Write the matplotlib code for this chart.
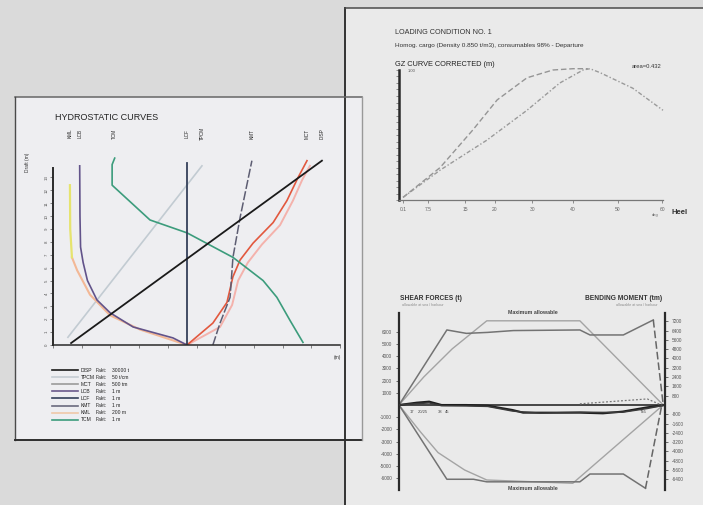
import matplotlib
matplotlib.use("Agg")
import matplotlib.pyplot as plt
from matplotlib.patches import Rectangle

plt.rcParams["font.family"] = ["Liberation Sans", "DejaVu Sans"]

W, H = 703, 505

# ---------------------------- hydrostatic curves ---------------------------- #
disp_draft = [0.15, 14.3]
disp = [6.3, 93.7]
tpc_draft = [0.6, 13.9]
tpc = [5.2, 51.9]
lcf_draft = [0.0, 14.1]
lcf = [46.7, 46.7]
lcb_draft = [0, 0.55, 1.4, 2.5, 3.5, 5.0, 6.4, 7.6, 10, 13.9]
lcb = [46.7, 41.8, 27.9, 19.9, 15.3, 12.0, 10.5, 9.6, 9.4, 9.3]
kml_draft = [0, 1.2, 2.3, 3.9, 5.8, 6.8, 9.0, 12.4]
kml = [46.7, 30.3, 19.9, 12.9, 8.4, 6.6, 6.0, 5.9]
mct_draft = [0, 1.7, 3.3, 5.3, 6.6, 7.9, 9.5, 11.2, 13.0, 14.3]
mct = [46.7, 55.7, 60.6, 62.7, 65.2, 69.7, 76.7, 81.5, 85.4, 88.5]
wpa_draft = [0, 1.4, 3.1, 5.0, 6.4, 7.8, 9.3, 11.2, 12.8, 13.9]
wpa = [46.7, 58.2, 62.4, 64.5, 67.9, 72.8, 79.1, 83.6, 86.8, 89.5]
kmt_draft = [0, 1.7, 3.7, 6.8, 9.9, 14.3]
kmt = [55.7, 58.2, 61.7, 62.7, 65.2, 69.3]
tcm_draft = [0.2, 1.9, 3.7, 5.0, 6.8, 8.7, 9.7, 12.4, 14.0, 14.5]
tcm = [87.1, 82.6, 78.0, 73.2, 62.7, 46.7, 33.8, 20.6, 20.6, 21.5]

legend_names = ["DISP", "TPCM", "MCT", "LCB", "LCF", "KMT", "KML", "TCM"]
legend_facts = ["30000 t", "50 t/cm", "500 tm", "1 m", "1 m", "1 m", "200 m", "1 m"]
legend_colors = ["#1a1a1a", "#c4ccd2", "#9a9a9a", "#6a5a8c", "#34405a",
                 "#6a6a7e", "#f0c8a8", "#3c9c7c"]

# -------------------------------- GZ curve ---------------------------------- #
gz_heel = [0, 8.6, 16.2, 21.8, 28.7, 34.7, 39.4, 42.8]
gz = [0.02, 0.25, 0.54, 0.77, 0.94, 1.0, 1.01, 1.01]
gz2_heel = [0, 8.6, 19.4, 28.7, 36.3, 41.7, 43.3, 45.6, 53.2, 60.2]
gz2 = [0.02, 0.23, 0.46, 0.69, 0.90, 1.0, 1.01, 0.98, 0.86, 0.69]
heel_ticks = [0, 5.8, 14.4, 21.3, 29.9, 39.4, 49.8, 60]
heel_labels = ["0.1", "7.5", "15", "20", "30", "40", "50", "60"]

# ---------------------- shear forces / bending moment ----------------------- #
env_pos = [0, 14, 30, 49.5, 102, 149]
env_up = [0, 2300, 4600, 6900, 6900, 0]
env_lo_pos = [0, 12, 22, 37, 49.5, 98, 126.5, 149]
env_lo = [0, -2190, -3900, -5330, -6150, -6420, -2830, 0]
sf_pos = [0, 27, 38, 50, 64.5, 102, 107.7, 126.5, 143.4]
sf_up = [0, 6150, 5870, 5950, 6100, 6150, 5740, 5740, 6970]
sf_lo_pos = [0, 27, 42, 49.5, 102, 107.7, 126.5, 139]
sf_lo = [0, -6090, -6090, -6300, -6300, -5660, -5660, -6830]
sf_end_pos = [143.4, 149]
sf_end_up = [6970, 0]
sf_end_lo_pos = [139, 148.2]
sf_end_lo = [-6830, 0]
bm_pos = [0, 10, 17, 24, 38, 50, 64, 70, 80, 102, 115, 126, 140, 150]
bm1 = [0, 200, 290, 0, 0, -60, -430, -660, -660, -660, -717, -570, -200, 0]
bm2 = [0, 120, 180, -60, -80, -120, -520, -600, -700, -620, -640, -620, -300, 0]
bm3_pos = [102, 120, 140, 148]
bm3 = [100, 300, 520, 0]
frame_pos = [7.3, 13.5, 23, 27, 137.6]
frame_labels = ["17", "20/25", "38", "45", "Tk5"]
sf_ticks = [-6000, -5000, -4000, -3000, -2000, -1000, 1000, 2000, 3000, 4000, 5000, 6000]
bm_ticks = [-6400, -5600, -4800, -4000, -3200, -2400, -1600, -800,
            800, 1600, 2400, 3200, 4000, 4800, 5600, 6400, 7200]


def px_axes(fig, x0, y0, x1, y1):
    return fig.add_axes([x0 / W, 1 - y1 / H, (x1 - x0) / W, (y1 - y0) / H])


fig = plt.figure(figsize=(W / 100, H / 100), dpi=100, facecolor="#dadada")

# background: two sheets of paper
bg = fig.add_axes([0, 0, 1, 1])
bg.set_xlim(0, W); bg.set_ylim(H, 0); bg.axis("off")
bg.add_patch(Rectangle((345, 8), 380, 520, facecolor="#eaeaea", edgecolor="none"))
bg.plot([345, 345], [8, 510], color="#333333", lw=1.4)
bg.plot([345, 710], [8, 8], color="#4a4a4a", lw=1.1)
bg.add_patch(Rectangle((15, 97), 347, 343, facecolor="#eeeef1", edgecolor="none"))
bg.plot([15, 362], [97, 97], color="#666666", lw=1.1)
bg.plot([15, 15], [97, 440], color="#4a4a4a", lw=1.0)
bg.plot([15, 362], [440, 440], color="#2e2e2e", lw=1.4)
bg.plot([362, 362], [97, 440], color="#999999", lw=1.0)

bg.text(55, 118, "HYDROSTATIC CURVES", fontsize=6.5, color="#222222", va="center")
bg.text(27, 162, "Draft (m)", fontsize=3.5, rotation=90, color="#333333", ha="center", va="center")
bg.text(337, 357, "(m)", fontsize=3.5, color="#333333", ha="center", va="center")

for i, (name, fact, c) in enumerate(zip(legend_names, legend_facts, legend_colors)):
    yy = 370 + i * 7.1
    bg.plot([52, 78], [yy, yy], color=c, lw=1.2)
    bg.text(81, yy, name, fontsize=3.6, color="#222222", va="center")
    bg.text(96, yy, "Fakt:", fontsize=3.6, color="#222222", va="center")
    bg.text(112, yy, fact, fontsize=3.6, color="#222222", va="center")

bg.text(395, 33, "LOADING CONDITION NO. 1", fontsize=5.2, color="#333333", va="center")
bg.text(395, 45, "Homog. cargo (Density 0.850 t/m3), consumables 98% - Departure",
        fontsize=4.6, color="#333333", va="center")
bg.text(395, 64, "GZ CURVE CORRECTED (m)", fontsize=5.3, color="#222222", va="center")
bg.text(662, 67, "area=0.432", fontsize=4.2, color="#333333", ha="right", va="center")
bg.text(408, 71, "1.00", fontsize=3, color="#555555", va="center")
bg.text(680, 212, "Heel", fontsize=5.5, fontweight="bold", color="#333333", ha="center", va="center")
bg.text(655, 215, "deg", fontsize=3, color="#666666", ha="center", va="center")

bg.text(400, 299, "SHEAR FORCES (t)", fontsize=4.8, fontweight="bold", color="#333333", va="center")
bg.text(402, 305, "allowable at sea / harbour", fontsize=2.6, color="#8a8a8a", va="center")
bg.text(662, 299, "BENDING MOMENT (tm)", fontsize=4.8, fontweight="bold", color="#333333",
        ha="right", va="center")
bg.text(658, 305, "allowable at sea / harbour", fontsize=2.6, color="#8a8a8a", ha="right", va="center")
bg.text(533, 313, "Maximum allowable", fontsize=3.8, fontweight="bold", color="#444444",
        ha="center", va="center")
bg.text(533, 488, "Maximum allowable", fontsize=3.8, fontweight="bold", color="#444444",
        ha="center", va="center")

# ------------------------------ left chart ---------------------------------- #
ax = px_axes(fig, 53, 113, 340, 345)
ax.set_facecolor("none")
ax.set_xlim(0, 100); ax.set_ylim(0, 18)
for s in ("top", "right"):
    ax.spines[s].set_visible(False)
ax.spines["left"].set_bounds(0, 13.7)
ax.spines["left"].set_color("#2a2a2a"); ax.spines["left"].set_linewidth(1.4)
ax.spines["bottom"].set_color("#2a2a2a"); ax.spines["bottom"].set_linewidth(1.1)
ax.set_yticks(range(0, 14))
ax.set_yticklabels([str(v) for v in range(0, 14)], rotation=90, fontsize=3.2,
                   color="#333333", va="center")
ax.set_xticks(range(0, 101, 10))
ax.set_xticklabels([])
ax.tick_params(length=2, width=0.5, pad=1, colors="#555555")

ax.plot(tpc, tpc_draft, color="#c2cbd2", lw=1.2)
ax.plot(kml[:6], kml_draft[:6], color="#f3b896", lw=1.5)
ax.plot(kml[5:], kml_draft[5:], color="#e6e46e", lw=1.6)
ax.plot(lcb, lcb_draft, color="#62538a", lw=1.2)
ax.plot(wpa, wpa_draft, color="#f4b2ac", lw=1.4)
ax.plot(mct, mct_draft, color="#e2583e", lw=1.2)
ax.plot(kmt, kmt_draft, color="#5d5d72", lw=1.1, ls=(0, (6, 1.5)))
ax.plot(tcm, tcm_draft, color="#3c9c7c", lw=1.2)
ax.plot(lcf, lcf_draft, color="#34405a", lw=1.3)
ax.plot(disp, disp_draft, color="#1a1a1a", lw=1.3)

curve_ends = [(kml[-1], "KML"), (lcb[-1], "LCB"), (tcm[-1], "TCM"), (lcf[-1], "LCF"),
              (tpc[-1], "TPCM"), (kmt[-1], "KMT"), (mct[-1], "MCT"), (disp[-1], "DISP")]
for xv, name in curve_ends:
    ax.text(xv, 16.4, name, rotation=90, fontsize=3.3, color="#222222",
            ha="center", va="center", clip_on=False)

# ------------------------------ GZ chart ------------------------------------ #
gx = px_axes(fig, 399, 70, 663, 200)
gx.set_facecolor("none")
gx.set_xlim(-0.93, 60.2); gx.set_ylim(0, 1.0)
for s in ("top", "right"):
    gx.spines[s].set_visible(False)
gx.spines["left"].set_color("#2a2a2a"); gx.spines["left"].set_linewidth(1.8)
gx.spines["bottom"].set_color("#777777"); gx.spines["bottom"].set_linewidth(0.9)
gx.set_yticks([i * 0.05 for i in range(21)])
gx.set_yticklabels([])
gx.set_xticks(heel_ticks)
gx.set_xticklabels(heel_labels, fontsize=3.6, color="#444444")
gx.tick_params(length=2, width=0.5, pad=3, colors="#666666")
gx.plot(gz_heel, gz, color="#959595", lw=1.0, ls=(0, (4, 2)), clip_on=False)
gx.plot(gz2_heel, gz2, color="#9a9a9a", lw=1.0, ls=(0, (3, 1.5, 1, 1.5)), clip_on=False)

# ---------------------- shear force / bending moment ------------------------ #
sx = px_axes(fig, 399, 313, 665, 490)
sx.set_facecolor("none")
sx.set_xlim(0, 150); sx.set_ylim(-6970, 7540)
for s in ("top", "bottom", "right"):
    sx.spines[s].set_visible(False)
sx.spines["left"].set_color("#2a2a2a"); sx.spines["left"].set_linewidth(1.6)
sx.set_xticks([])
sx.set_yticks(sf_ticks)
sx.set_yticklabels([str(v) for v in sf_ticks], fontsize=3.4, color="#444444")
sx.tick_params(axis="y", length=2, width=0.6, pad=3, colors="#555555")
sx.axhline(0, color="#2a2a2a", lw=1.2)

sx.plot(env_pos, env_up, color="#a4a4a4", lw=1.0)
sx.plot(env_lo_pos, env_lo, color="#a4a4a4", lw=1.0)
sx.plot(sf_pos, sf_up, color="#737373", lw=1.1)
sx.plot(sf_lo_pos, sf_lo, color="#737373", lw=1.1)
sx.plot(sf_end_pos, sf_end_up, color="#666666", lw=1.1, ls=(0, (5, 2)))
sx.plot(sf_end_lo_pos, sf_end_lo, color="#666666", lw=1.1, ls=(0, (5, 2)))
for xv, lab in zip(frame_pos, frame_labels):
    sx.text(xv, -600, lab, fontsize=3, color="#444444", ha="center", va="center")

bx = sx.twinx()
bx.set_ylim(-7312, 7914)
for s in ("top", "bottom", "left"):
    bx.spines[s].set_visible(False)
bx.spines["right"].set_color("#2a2a2a"); bx.spines["right"].set_linewidth(1.6)
bx.set_yticks(bm_ticks)
bx.set_yticklabels([str(v) for v in bm_ticks], fontsize=3.4, color="#444444")
bx.tick_params(axis="y", length=2, width=0.6, pad=3, colors="#555555")
bx.plot(bm_pos, bm1, color="#1e1e1e", lw=1.5)
bx.plot(bm_pos, bm2, color="#3a3a3a", lw=1.1)
bx.plot(bm3_pos, bm3, color="#777777", lw=0.9, ls=(0, (1.5, 1.5)))

fig.savefig("out.png", dpi=100, facecolor=fig.get_facecolor())
